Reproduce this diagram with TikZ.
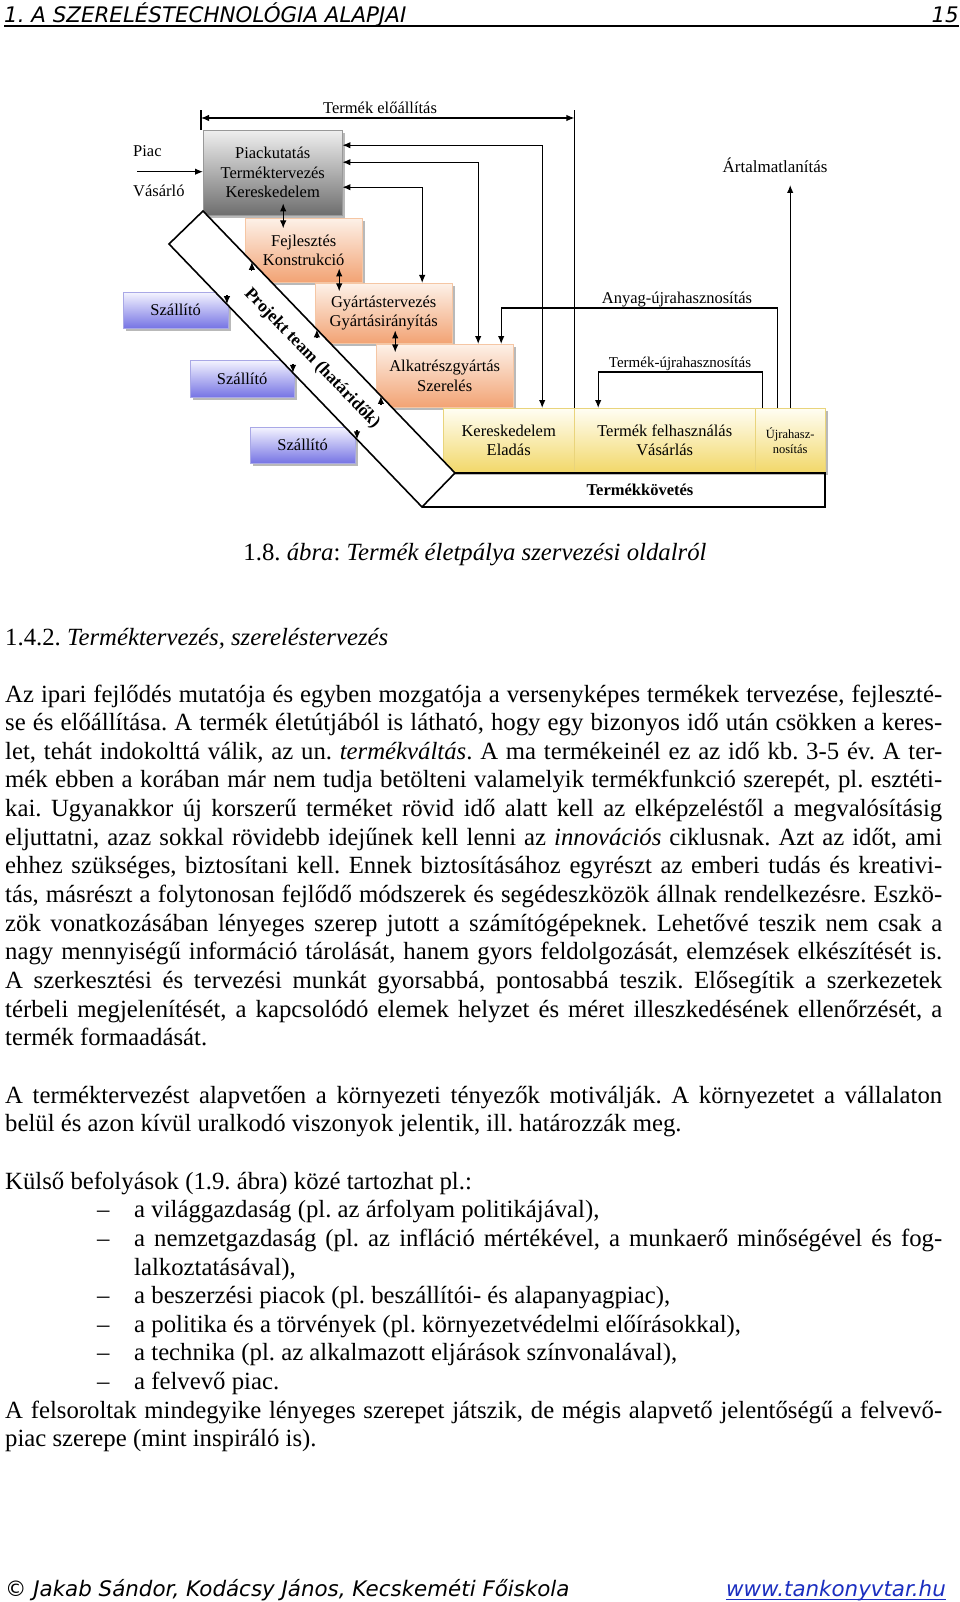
\documentclass[tikz,border=0pt]{standalone}
\usepackage{fontspec}
\setmainfont{Liberation Serif}
\newfontfamily\verd{DejaVu Sans}
\usetikzlibrary{arrows.meta,shadows,calc,positioning}
\frenchspacing

\definecolor{grayhi}{HTML}{EFEFEF}
\definecolor{graylo}{HTML}{6E6E6E}
\definecolor{orhi}{HTML}{FDF1E8}
\definecolor{orlo}{HTML}{F2A374}
\definecolor{orline}{HTML}{F5C6A4}
\definecolor{blhi}{HTML}{F4F4FF}
\definecolor{bllo}{HTML}{7674E4}
\definecolor{blline}{HTML}{A9A8E6}
\definecolor{yehi}{HTML}{FFFEF4}
\definecolor{yelo}{HTML}{F2D86A}
\definecolor{yeline}{HTML}{E9D47C}
\definecolor{linkblue}{HTML}{1B2EC0}

\newcommand{\jl}[2]{\makebox[#1][s]{#2}}

\tikzset{
  box/.style={anchor=north west, inner sep=0pt, align=center,
    font=\fontsize{16.5}{19.5}\selectfont,
    drop shadow={shadow xshift=2.5pt, shadow yshift=-2.5pt, fill=black!50, opacity=0.55}},
  graybox/.style={box, top color=grayhi, bottom color=graylo, draw=gray!80},
  orbox/.style={box, top color=orhi, bottom color=orlo, draw=orline},
  szbox/.style={box, top color=blhi, bottom color=bllo, draw=blline},
  yebox/.style={box, top color=yehi, bottom color=yelo, draw=yeline},
  tip/.style={-{Latex[length=8pt,width=6.5pt]}, line width=1.2pt},
  both/.style={{Latex[length=8pt,width=6.5pt]}-{Latex[length=8pt,width=6.5pt]}, line width=1.2pt},
  lbl/.style={inner sep=0pt, font=\fontsize{16.5}{19.5}\selectfont},
  txt/.style={anchor=base west, inner sep=0pt, font=\fontsize{24.75}{28.5}\selectfont},
  side/.style={inner sep=0pt, font=\verd\itshape\fontsize{21.4}{24}\selectfont},
}

\begin{document}
\begin{tikzpicture}[x=1pt, y=-1pt]
  \useasboundingbox[fill=white] (0,0) rectangle (960,1602);

  % page header
  \node[side, anchor=base west] (fejlec) at (4,22.5) {1. A SZERELÉSTECHNOLÓGIA ALAPJAI};
  \node[side, anchor=base east] (oldal) at (959,22.5) {15};
  \draw[line width=1.3pt] ([yshift=-3.5pt]fejlec.base west) -- ([yshift=-3.5pt]oldal.base east);

  % boxes of the life cycle
  \node[graybox, minimum width=139pt, minimum height=85pt] (kutat) at (203,130)
    {Piackutatás\\Terméktervezés\\Kereskedelem};
  \node[orbox, minimum width=117pt, minimum height=64pt] (fejl) at (245,218)
    {Fejlesztés\\Konstrukció};
  \node[orbox, minimum width=137pt, minimum height=60pt] (gyart) at (315,283)
    {Gyártástervezés\\Gyártásirányítás};
  \node[orbox, minimum width=137pt, minimum height=63pt] (alk) at (376,344)
    {Alkatrészgyártás\\Szerelés};
  \node[yebox, minimum width=131pt, minimum height=64pt] (elad) at (443,408)
    {Kereskedelem\\Eladás};
  \node[yebox, minimum width=181pt, minimum height=64pt] (haszn) at (574,408)
    {Termék felhasználás\\Vásárlás};
  \node[yebox, minimum width=70pt, minimum height=64pt, font=\fontsize{12.5}{15}\selectfont] (ujra) at (755,408)
    {Újrahasz-\\nosítás};

  % suppliers
  \node[szbox, minimum width=105pt, minimum height=36pt] (szall1) at (123,292) {Szállító};
  \node[szbox, minimum width=104pt, minimum height=37pt] (szall2) at (190,360) {Szállító};
  \node[szbox, minimum width=105pt, minimum height=36pt] (szall3) at (250,427) {Szállító};

  % market
  \node[lbl, anchor=west] (piac) at (133,151) {Piac};
  \node[lbl, anchor=west] (vasarlo) at (133,191) {Vásárló};
  \draw[tip] ([shift={(-66,-1)}]kutat.west) -- ([shift={(0,-1)}]kutat.west);

  % links between the stacked boxes
  \draw[both] ([shift={(10.5,-12)}]kutat.south) -- ([shift={(10.5,13)}]kutat.south);
  \draw[both] ([shift={(35.5,-14)}]fejl.south) -- ([shift={(35.5,9)}]fejl.south);
  \draw[both] ([shift={(11.5,-13)}]gyart.south) -- ([shift={(11.5,9)}]gyart.south);

  % feedback to the first box
  \draw[both] ([shift={(0,-27.5)}]kutat.east) -| ([shift={(33.5,0)}]elad.north);
  \draw[both] ([shift={(0,-10.5)}]kutat.east) -| ([shift={(33.5,0)}]alk.north);
  \draw[both] ([shift={(0,14.5)}]kutat.east) -| ([shift={(38.5,0)}]gyart.north);

  % Termek eloallitas
  \coordinate (eloL) at ([shift={(-2,-12)}]kutat.north west);
  \coordinate (eloR) at (eloL -| elad.north east);
  \draw[line width=1.2pt] ([shift={(-2,0)}]kutat.north west) -- ++(0,-20);
  \draw[line width=1.2pt] (elad.north east) -- ++(0,-298);
  \draw[both] (eloL) -- (eloR);
  \node[lbl, anchor=base] (elo) at (380,114) {Termék előállítás};

  % recycling and disposal
  \draw[tip] ([shift={(-13,0)}]ujra.north) -- ++(0,-100) -| ([shift={(56.5,0)}]alk.north);
  \node[lbl, anchor=base] (anyag) at (677,304) {Anyag-újrahasznosítás};
  \draw[tip] ([shift={(-28,0)}]ujra.north) -- ++(0,-36) -| ([shift={(-66.5,0)}]haszn.north);
  \node[lbl, anchor=base, font=\fontsize{15}{18}\selectfont] (termujra) at (680,367) {Termék-újrahasznosítás};
  \node[lbl, font=\fontsize{17}{20}\selectfont] (artalm) at (775,165) {Ártalmatlanítás};
  \draw[tip] (ujra.north) -- ++(0,-223);

  % project team band and product follow-up
  \coordinate (sa) at (203,211);
  \coordinate (sb) at (169,244);
  \coordinate (sc) at (455,473);
  \coordinate (sd) at (422,507);
  \draw[line width=1.2pt] (sc) -- (825,473) -- (825,507) -- (sd);
  \node[lbl, font=\bfseries\fontsize{16.5}{19.5}\selectfont] (kovet) at (640,490) {Termékkövetés};
  \draw[line width=1.6pt, fill=white] (sa) -- (sc) -- (sd) -- (sb) -- cycle;
  \node[lbl, font=\bfseries\fontsize{17.5}{20}\selectfont, rotate=-46.06] (team) at (312,358.5)
    {Projekt team (határidők)};
  \foreach \t in {0.194,0.452,0.706}
    \draw[tip] ($(sa)!\t!(sc)$) ++(0,9) -- ++(0,-9);
  \foreach \t in {0.229,0.490,0.743}
    \draw[tip] ($(sb)!\t!(sd)$) ++(0,-9) -- ++(0,9);

  % caption and heading
  \node[txt, anchor=base] (abra) at (475,560)
    {1.8. \textit{ábra}: \textit{Termék életpálya szervezési oldalról}};
  \node[txt] (cim) at (5,645) {1.4.2. \textit{Terméktervezés, szereléstervezés}};

  % first paragraph
  \node[txt] (p1) at (5,702) {\jl{937pt}{Az ipari fejlődés mutatója és egyben mozgatója a versenyképes termékek tervezése, fejleszté-}};
  \node[txt] (p2) at (5,730.65) {\jl{937pt}{se és előállítása. A termék életútjából is látható, hogy egy bizonyos idő után csökken a keres-}};
  \node[txt] (p3) at (5,759.3) {\jl{937pt}{let, tehát indokolttá válik, az un. \textit{termékváltás}. A ma termékeinél ez az idő kb. 3-5 év. A ter-}};
  \node[txt] (p4) at (5,787.95) {\jl{937pt}{mék ebben a korában már nem tudja betölteni valamelyik termékfunkció szerepét, pl. esztéti-}};
  \node[txt] (p5) at (5,816.6) {\jl{937pt}{kai. Ugyanakkor új korszerű terméket rövid idő alatt kell az elképzeléstől a megvalósításig}};
  \node[txt] (p6) at (5,845.25) {\jl{937pt}{eljuttatni, azaz sokkal rövidebb idejűnek kell lenni az \textit{innovációs} ciklusnak. Azt az időt, ami}};
  \node[txt] (p7) at (5,873.9) {\jl{937pt}{ehhez szükséges, biztosítani kell. Ennek biztosításához egyrészt az emberi tudás és kreativi-}};
  \node[txt] (p8) at (5,902.55) {\jl{937pt}{tás, másrészt a folytonosan fejlődő módszerek és segédeszközök állnak rendelkezésre. Eszkö-}};
  \node[txt] (p9) at (5,931.2) {\jl{937pt}{zök vonatkozásában lényeges szerep jutott a számítógépeknek. Lehetővé teszik nem csak a}};
  \node[txt] (p10) at (5,959.85) {\jl{937pt}{nagy mennyiségű információ tárolását, hanem gyors feldolgozását, elemzések elkészítését is.}};
  \node[txt] (p11) at (5,988.5) {\jl{937pt}{A szerkesztési és tervezési munkát gyorsabbá, pontosabbá teszik. Elősegítik a szerkezetek}};
  \node[txt] (p12) at (5,1017.15) {\jl{937pt}{térbeli megjelenítését, a kapcsolódó elemek helyzet és méret illeszkedésének ellenőrzését, a}};
  \node[txt] (p13) at (5,1045.8) {termék formaadását.};

  % second paragraph
  \node[txt] (q1) at (5,1103.1) {\jl{937pt}{A terméktervezést alapvetően a környezeti tényezők motiválják. A környezetet a vállalaton}};
  \node[txt] (q2) at (5,1131.75) {belül és azon kívül uralkodó viszonyok jelentik, ill. határozzák meg.};

  % list
  \node[txt] (r1) at (5,1189.05) {Külső befolyások (1.9. ábra) közé tartozhat pl.:};
  \foreach \y/\n in {1217.7/1,1246.35/2,1303.65/3,1332.3/4,1360.95/5,1389.6/6}
    \node[txt] (dash\n) at (97,\y) {–};
  \node[txt] (i1) at (134,1217.7) {a világgazdaság (pl. az árfolyam politikájával),};
  \node[txt] (i2) at (134,1246.35) {\jl{808pt}{a nemzetgazdaság (pl. az infláció mértékével, a munkaerő minőségével és fog-}};
  \node[txt] (i2b) at (134,1275.0) {lalkoztatásával),};
  \node[txt] (i3) at (134,1303.65) {a beszerzési piacok (pl. beszállítói- és alapanyagpiac),};
  \node[txt] (i4) at (134,1332.3) {a politika és a törvények (pl. környezetvédelmi előírásokkal),};
  \node[txt] (i5) at (134,1360.95) {a technika (pl. az alkalmazott eljárások színvonalával),};
  \node[txt] (i6) at (134,1389.6) {a felvevő piac.};
  \node[txt] (s1) at (5,1418.25) {\jl{937pt}{A felsoroltak mindegyike lényeges szerepet játszik, de mégis alapvető jelentőségű a felvevő-}};
  \node[txt] (s2) at (5,1446.9) {piac szerepe (mint inspiráló is).};

  % page footer
  \node[side, anchor=base west] (szerzo) at (5,1596) {© Jakab Sándor, Kodácsy János, Kecskeméti Főiskola};
  \node[side, anchor=base east, text=linkblue] (link) at (946,1596) {www.tankonyvtar.hu};
  \draw[linkblue, line width=1pt] ([yshift=-3pt]link.base west) -- ([yshift=-3pt]link.base east);
\end{tikzpicture}
\end{document}
